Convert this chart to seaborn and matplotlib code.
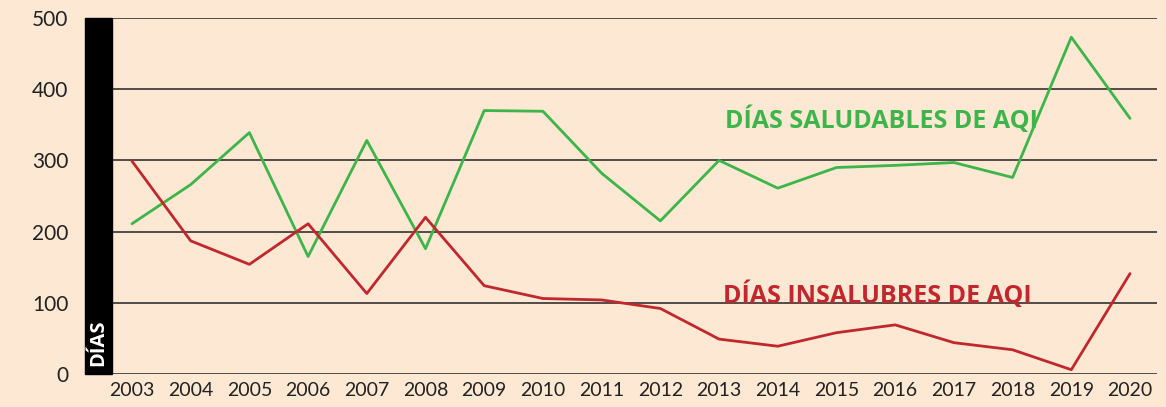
import pandas as pd
import seaborn as sns
from matplotlib import pyplot as plt
from matplotlib.patches import Rectangle

# data
years = list(range(2003, 2021))
saludables = [211, 266, 339, 165, 328, 176, 370, 369, 282, 215, 300, 261, 290, 293, 297, 276, 473, 359]
insalubres = [299, 187, 154, 211, 113, 220, 124, 106, 104, 92, 49, 39, 58, 69, 44, 34, 6, 141]
yticks = [0, 100, 200, 300, 400, 500]

bg = '#fde8d3'
green = '#3db54a'
red = '#c1272d'

df = pd.DataFrame({'year': years * 2,
                   'dias': saludables + insalubres,
                   'serie': ['saludables'] * len(years) + ['insalubres'] * len(years)})

sns.set_style('white')
plt.rcParams['font.family'] = ['Lato', 'DejaVu Sans']

fig = plt.figure(figsize=(11.66, 4.07), dpi=100, facecolor=bg)
ax = fig.add_axes([0.0729, 0.0811, 0.9194, 0.8747])
ax.set_facecolor(bg)

# grid lines
for t in yticks:
    ax.axhline(t, color='#222222', lw=1.1, zorder=1)

sns.lineplot(data=df, x='year', y='dias', hue='serie',
             palette={'saludables': green, 'insalubres': red},
             linewidth=2.0, legend=False, ax=ax, zorder=3)

ax.set_xlim(2002.2, 2020.46)
ax.set_ylim(0, 500)
ax.set_xticks(years)
ax.set_xticklabels([str(y) for y in years], fontsize=14, color='#222222')
ax.set_yticks(yticks)
ax.set_yticklabels([str(t) for t in yticks], fontsize=15, color='#222222')
ax.tick_params(axis='both', length=0)
ax.tick_params(axis='y', pad=12)
ax.tick_params(axis='x', pad=6)
ax.set_xlabel('')
ax.set_ylabel('')
sns.despine(ax=ax, left=True, bottom=True)

# black bar with axis label
ax.add_patch(Rectangle((0, 0), 0.0252, 1.0, transform=ax.transAxes,
                       color='black', zorder=4, clip_on=False))
ax.text(0.0126, 0.022, 'DÍAS', transform=ax.transAxes, rotation=90,
        color='white', fontsize=14.5, fontweight='bold', family='Open Sans',
        ha='center', va='bottom', zorder=5)

ax.text(2013.1, 357, 'DÍAS SALUDABLES DE AQI', color=green, fontsize=18,
        fontweight='bold', family='Open Sans', va='center', ha='left', zorder=5)
ax.text(2013.07, 110, 'DÍAS INSALUBRES DE AQI', color=red, fontsize=18,
        fontweight='bold', family='Open Sans', va='center', ha='left', zorder=5)

plt.savefig('out.png', dpi=100, facecolor=bg)
